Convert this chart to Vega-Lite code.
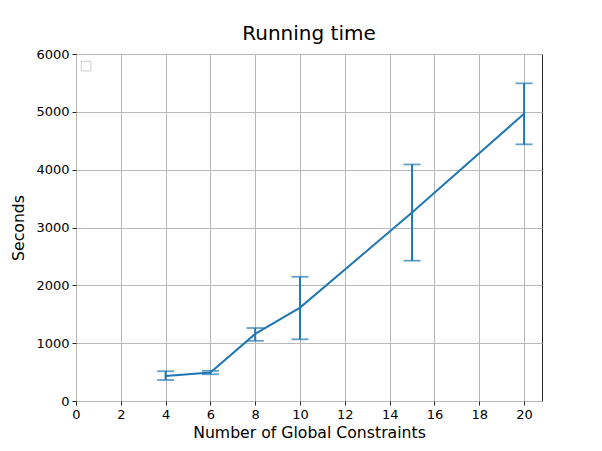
{
  "$schema": "https://vega.github.io/schema/vega-lite/v6.json",
  "width": 466,
  "height": 347,
  "autosize": {"type": "none"},
  "padding": {"left": 76, "top": 54, "right": 60, "bottom": 50},
  "background": "white",
  "config": {
    "font": "DejaVu Sans",
    "view": {"stroke": "#222222", "strokeWidth": 1},
    "axis": {
      "grid": true,
      "gridColor": "#b8b8b8",
      "gridWidth": 1,
      "domain": false,
      "tickColor": "#222222",
      "tickSize": 4,
      "labelColor": "black",
      "labelFontSize": 13,
      "labelFont": "DejaVu Sans",
      "labelFlush": false,
      "titleFont": "DejaVu Sans",
      "titleFontSize": 15.7,
      "titleFontWeight": "normal",
      "titleColor": "black",
      "labelPadding": 3
    },
    "title": {"font": "DejaVu Sans", "fontSize": 20, "fontWeight": "normal", "color": "black", "offset": 4}
  },
  "title": {"text": "Running time"},
  "data": {
    "values": [
      {"n": 4, "mean": 432, "lo": 363, "hi": 515},
      {"n": 6, "mean": 492, "lo": 462, "hi": 522},
      {"n": 8, "mean": 1160, "lo": 1040, "hi": 1262},
      {"n": 10, "mean": 1615, "lo": 1067, "hi": 2148},
      {"n": 15, "mean": 3258, "lo": 2426, "hi": 4090},
      {"n": 20, "mean": 4968, "lo": 4438, "hi": 5493}
    ]
  },
  "encoding": {
    "x": {
      "field": "n", "type": "quantitative",
      "scale": {"domain": [0, 20.8], "nice": false, "zero": false},
      "axis": {"values": [0, 2, 4, 6, 8, 10, 12, 14, 16, 18, 20], "title": "Number of Global Constraints", "titlePadding": 4}
    }
  },
  "layer": [
    {
      "data": {"values": [{"lx": 0.45, "ly": 5790}]},
      "mark": {"type": "point", "shape": "square", "size": 90, "filled": false, "stroke": "#c8c8c8", "strokeWidth": 1.2, "fill": "white"},
      "encoding": {
        "x": {"field": "lx", "type": "quantitative"},
        "y": {"field": "ly", "type": "quantitative"}
      }
    },
    {
      "mark": {"type": "rule", "color": "#1f77b4", "strokeWidth": 2},
      "encoding": {
        "y": {
          "field": "lo", "type": "quantitative",
          "scale": {"domain": [0, 6000], "nice": false},
          "axis": {"values": [0, 1000, 2000, 3000, 4000, 5000, 6000], "format": "d", "title": "Seconds", "titlePadding": 9}
        },
        "y2": {"field": "hi"}
      }
    },
    {
      "mark": {"type": "tick", "orient": "horizontal", "color": "#1f77b4", "size": 17, "thickness": 1.8},
      "encoding": {"y": {"field": "lo", "type": "quantitative"}}
    },
    {
      "mark": {"type": "tick", "orient": "horizontal", "color": "#1f77b4", "size": 17, "thickness": 1.8},
      "encoding": {"y": {"field": "hi", "type": "quantitative"}}
    },
    {
      "mark": {"type": "line", "color": "#1f77b4", "strokeWidth": 2},
      "encoding": {"y": {"field": "mean", "type": "quantitative"}}
    }
  ]
}
